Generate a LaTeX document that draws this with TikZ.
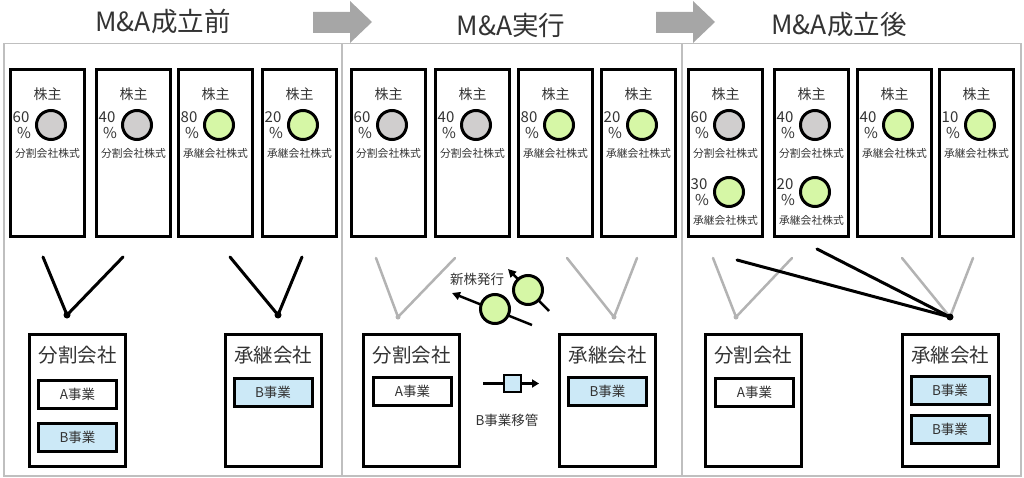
\documentclass[tikz,border=0pt]{standalone}
\usepackage{fontspec}
\setmainfont{Noto Sans CJK JP}
\usetikzlibrary{arrows.meta}
\definecolor{panelc}{HTML}{BFBFBF}
\definecolor{arrowc}{HTML}{A6A6A6}
\definecolor{vgray}{HTML}{B3B3B3}
\definecolor{shgray}{HTML}{D0CECE}
\definecolor{shgreen}{HTML}{D6F7A6}
\definecolor{bizblue}{HTML}{CCE9F7}
\definecolor{txt}{HTML}{333333}
\tikzset{
  panel/.style={draw=panelc, line width=1.5pt},
  hdr/.style={font=\fontsize{26.5}{26.5}\selectfont, text=txt},
  bigarrow/.style={fill=arrowc, draw=none},
  holder/.style={draw, line width=3pt, minimum width=74pt, minimum height=167pt, inner sep=0pt},
  holdertitle/.style={font=\fontsize{14}{14}\selectfont, text=txt, inner sep=0pt},
  share/.style={circle, draw, line width=3pt, minimum size=29pt, inner sep=0pt},
  pctnum/.style={font=\fontsize{15}{15}\selectfont, text=txt, inner sep=0pt},
  sharelbl/.style={font=\fontsize{10.8}{10.8}\selectfont, text=txt, inner sep=0pt},
  company/.style={draw, line width=3pt, minimum width=96pt, minimum height=132pt, inner sep=0pt},
  comptitle/.style={font=\fontsize{19.5}{19.5}\selectfont, text=txt, inner sep=0pt},
  biz/.style={draw, line width=3pt, minimum width=78pt, minimum height=28pt, inner sep=0pt, font=\fontsize{13.5}{13.5}\selectfont, text=txt},
  vblack/.style={line width=3pt, line cap=round},
  vgrayl/.style={draw=vgray, line width=2.5pt, line cap=round},
  small/.style={font=\fontsize{13.5}{13.5}\selectfont, text=txt, inner sep=0pt},
  issue/.style={line width=2.5pt, -{Triangle[length=8pt,width=8pt]}},
}
\newcommand\shbox[2]{%
  \node[holder] (#1) at (#2+38.5,153) {};
  \node[holdertitle] (#1t) at (#2+38.5,94) {株主};
}
\newcommand\shcirc[6]{%
  \node[share, fill=#5] (#1) at (#2+42,#3) {};
  \node[pctnum] (#1n) at (#2+12,#3-8) {#4};
  \node[pctnum] (#1p) at (#2+15,#3+8) {\%};
  \node[sharelbl] (#1l) at (#2+38.5,#3+28) {#6};
}
\begin{document}
\begin{tikzpicture}[x=1pt, y=-1pt]
\useasboundingbox (0,0) rectangle (1024,478);
% panels
\draw[panel] (4,43.5) rectangle (1021,476);
\draw[panel] (342,43.5) -- (342,476);
\draw[panel] (682,43.5) -- (682,476);
% headers
\node[hdr] (h1) at (163,21) {M\&A成立前};
\node[hdr] (h2) at (511,25) {M\&A実行};
\node[hdr] (h3) at (839,25) {M\&A成立後};
\fill[bigarrow] (313,12) -- (350,12) -- (350,1) -- (372,22) -- (350,43) -- (350,33) -- (313,33) -- cycle;
\fill[bigarrow] (656,12) -- (693,12) -- (693,1) -- (715,22) -- (693,43) -- (693,33) -- (656,33) -- cycle;

% ---------- section 1 ----------
\shbox{a1}{9}\shbox{a2}{95}\shbox{a3}{177}\shbox{a4}{261}
\shcirc{a1c}{9}{125}{60}{shgray}{分割会社株式}
\shcirc{a2c}{95}{125}{40}{shgray}{分割会社株式}
\shcirc{a3c}{177}{125}{80}{shgreen}{承継会社株式}
\shcirc{a4c}{261}{125}{20}{shgreen}{承継会社株式}
\coordinate (a1v1) at (43,257); \coordinate (a1v) at (67,315); \coordinate (a1v2) at (123,257);
\coordinate (a2v1) at (230,257); \coordinate (a2v) at (278,315); \coordinate (a2v2) at (302,257);
\draw[vblack] (a1v1) -- (a1v) -- (a1v2);
\draw[vblack] (a2v1) -- (a2v) -- (a2v2);
\fill (a1v) circle (3.5); \fill (a2v) circle (3.5);
\node[company] (ad) at (77.5,400.5) {};
\node[comptitle] (adt) at (77.5,355) {分割会社};
\node[biz] (ada) at (77.5,394.5) {A事業};
\node[biz, fill=bizblue] (adb) at (77.5,437) {B事業};
\node[company] (as) at (273,400.5) {};
\node[comptitle] (ast) at (273,355) {承継会社};
\node[biz, fill=bizblue] (asb) at (273,392.5) {B事業};

% ---------- section 2 ----------
\shbox{b1}{350}\shbox{b2}{434}\shbox{b3}{517}\shbox{b4}{600}
\shcirc{b1c}{350}{125}{60}{shgray}{分割会社株式}
\shcirc{b2c}{434}{125}{40}{shgray}{分割会社株式}
\shcirc{b3c}{517}{125}{80}{shgreen}{承継会社株式}
\shcirc{b4c}{600}{125}{20}{shgreen}{承継会社株式}
\coordinate (b1v1) at (376,258); \coordinate (b1v) at (398,317); \coordinate (b1v2) at (455,258);
\coordinate (b2v1) at (567,258); \coordinate (b2v) at (614,317); \coordinate (b2v2) at (637,258);
\draw[vgrayl] (b1v1) -- (b1v) -- (b1v2);
\draw[vgrayl] (b2v1) -- (b2v) -- (b2v2);
\fill[vgray] (b1v) circle (2.5); \fill[vgray] (b2v) circle (2.5);
% new share issue
\coordinate (i1s) at (532,325); \coordinate (i1e) at (452,293);
\coordinate (i2s) at (549,311); \coordinate (i2e) at (508,269);
\draw[issue] (i1s) -- (i1e);
\draw[issue] (i2s) -- (i2e);
\node[share, fill=shgreen] (i1) at (495,309) {};
\node[share, fill=shgreen] (i2) at (528,290) {};
\node[small] (it) at (477,279) {新株発行};
\node[company] (bd) at (411.5,400.5) {};
\node[comptitle] (bdt) at (411.5,355) {分割会社};
\node[biz] (bda) at (412.5,391.5) {A事業};
\node[company] (bs) at (607.5,400.5) {};
\node[comptitle] (bst) at (607.5,355) {承継会社};
\node[biz, fill=bizblue] (bsb) at (607.5,391.5) {B事業};
% transfer
\node[draw, line width=2.5pt, fill=bizblue, minimum size=17pt, inner sep=0pt] (tr) at (512.5,383.5) {};
\coordinate (trs) at (483,383.5); \coordinate (tre) at (539,383.5);
\draw[line width=2.5pt] (trs) -- (tr.west);
\draw[line width=2.5pt, -{Triangle[length=7pt,width=8pt]}] (tr.east) -- (tre);
\node[small] (trt) at (507,420) {B事業移管};

% ---------- section 3 ----------
\shbox{c1}{687}\shbox{c2}{773}\shbox{c3}{856}\shbox{c4}{938}
\shcirc{c1c}{687}{125}{60}{shgray}{分割会社株式}
\shcirc{c2c}{773}{125}{40}{shgray}{分割会社株式}
\shcirc{c3c}{856}{125}{40}{shgreen}{承継会社株式}
\shcirc{c4c}{938}{125}{10}{shgreen}{承継会社株式}
\shcirc{c1d}{687}{192}{30}{shgreen}{承継会社株式}
\shcirc{c2d}{773}{192}{20}{shgreen}{承継会社株式}
\coordinate (c1v1) at (713,258); \coordinate (c1v) at (736,317); \coordinate (c1v2) at (792,258);
\coordinate (c2v1) at (902,258); \coordinate (c2v) at (950,317); \coordinate (c2v2) at (973,258);
\draw[vgrayl] (c1v1) -- (c1v) -- (c1v2);
\draw[vgrayl] (c2v1) -- (c2v) -- (c2v2);
\fill[vgray] (c1v) circle (2.5);
\coordinate (c3a) at (737,260); \coordinate (c3b) at (817,249);
\draw[vblack] (c3a) -- (c2v);
\draw[vblack] (c3b) -- (c2v);
\fill (c2v) circle (3.5);
\node[company] (cd) at (753,400) {};
\node[comptitle] (cdt) at (753,355) {分割会社};
\node[biz] (cda) at (754.5,392.5) {A事業};
\node[company] (cs) at (950,400) {};
\node[comptitle] (cst) at (950,355) {承継会社};
\node[biz, fill=bizblue] (csb1) at (950,390) {B事業};
\node[biz, fill=bizblue] (csb2) at (950,429) {B事業};
\end{tikzpicture}
\end{document}
